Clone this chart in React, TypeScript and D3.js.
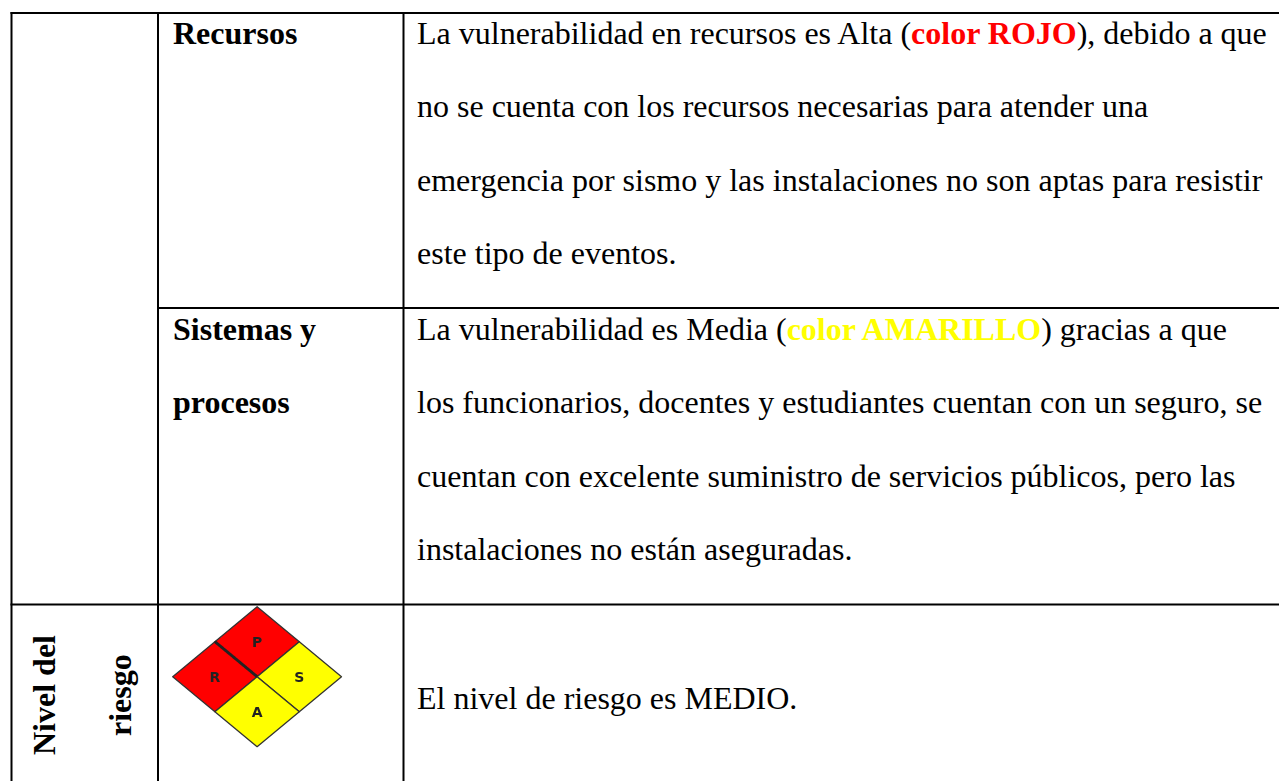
import React from "react";
import * as d3 from "d3";

type Run = { t: string; c?: "red" | "yellow" };

const recursosLines: Run[][] = [
  [
    { t: "La vulnerabilidad en recursos es Alta (" },
    { t: "color ROJO", c: "red" },
    { t: "), debido a que" },
  ],
  [{ t: "no se cuenta con los recursos necesarias para atender una" }],
  [{ t: "emergencia por sismo y las instalaciones no son aptas para resistir" }],
  [{ t: "este tipo de eventos." }],
];

const sistemasLines: Run[][] = [
  [
    { t: "La vulnerabilidad es Media (" },
    { t: "color AMARILLO", c: "yellow" },
    { t: ") gracias a que" },
  ],
  [{ t: "los funcionarios, docentes y estudiantes cuentan con un seguro, se" }],
  [{ t: "cuentan con excelente suministro de servicios públicos, pero las" }],
  [{ t: "instalaciones no están aseguradas." }],
];

const sistemasLabel = ["Sistemas y", "procesos"];
const riskText = "El nivel de riesgo es MEDIO.";

const diamondCells = [
  { label: "P", fill: "#ff0000", cx: 0, cy: -0.5 },
  { label: "R", fill: "#ff0000", cx: -0.5, cy: 0 },
  { label: "S", fill: "#ffff00", cx: 0.5, cy: 0 },
  { label: "A", fill: "#ffff00", cx: 0, cy: 0.5 },
];

const FONT = "'Liberation Serif', serif";
const SIZE = 32;
const LINE = 73.5;

const diaX = d3.scaleLinear().domain([-1, 1]).range([172.7, 341.5]);
const diaY = d3.scaleLinear().domain([-1, 1]).range([606.7, 746.7]);
const rhombus = d3
  .line<[number, number]>()
  .x((d) => diaX(d[0]))
  .y((d) => diaY(d[1]));

function Block({ lines, y0 }: { lines: Run[][]; y0: number }) {
  return (
    <>
      {lines.map((runs, i) => (
        <text key={i} x={417} y={y0 + i * LINE} fontFamily={FONT} fontSize={SIZE} fill="#000">
          {runs.map((r, j) => (
            <tspan key={j} fill={r.c === "red" ? "#ff0000" : r.c === "yellow" ? "#ffff00" : "#000"} fontWeight={r.c ? "bold" : "normal"}>
              {r.t}
            </tspan>
          ))}
        </text>
      ))}
    </>
  );
}

export default function App() {
  return (
    <svg width={1279} height={781} style={{ position: "absolute", left: 0, top: 0, background: "#fff" }}>
      <defs>
        <filter id="soft" x="-5%" y="-5%" width="110%" height="110%">
          <feGaussianBlur stdDeviation="0.7" />
        </filter>
      </defs>

      {/* table rules */}
      <g stroke="#000" strokeWidth={2}>
        <line x1={10.5} x2={1279} y1={13} y2={13} />
        <line x1={158} x2={1279} y1={308} y2={308} />
        <line x1={10.5} x2={1279} y1={604.5} y2={604.5} />
        <line x1={11.5} x2={11.5} y1={12} y2={781} />
        <line x1={158} x2={158} y1={12} y2={781} />
        <line x1={403.5} x2={403.5} y1={12} y2={781} />
      </g>

      <text x={173} y={43.5} fontFamily={FONT} fontSize={SIZE} fontWeight="bold">Recursos</text>
      {sistemasLabel.map((s, i) => (
        <text key={s} x={173} y={339.8 + i * LINE} fontFamily={FONT} fontSize={SIZE} fontWeight="bold">{s}</text>
      ))}

      <Block lines={recursosLines} y0={43.5} />
      <Block lines={sistemasLines} y0={339.8} />
      <text x={417} y={709} fontFamily={FONT} fontSize={SIZE}>{riskText}</text>

      <text transform="translate(55,755) rotate(-90)" fontFamily={FONT} fontSize={SIZE} fontWeight="bold">Nivel del</text>
      <text transform="translate(131,736) rotate(-90)" fontFamily={FONT} fontSize={SIZE} fontWeight="bold">riesgo</text>

      {/* risk diamond */}
      <g filter="url(#soft)">
        {diamondCells.map((c) => (
          <path
            key={c.label}
            d={rhombus([
              [c.cx, c.cy - 0.5],
              [c.cx + 0.5, c.cy],
              [c.cx, c.cy + 0.5],
              [c.cx - 0.5, c.cy],
            ]) + "Z"}
            fill={c.fill}
            stroke="#333"
            strokeWidth={1.3}
            strokeLinejoin="round"
          />
        ))}
        {/* the rule between the two red cells is heavier */}
        <path
          d={rhombus([
            [-0.5, -0.5],
            [0, 0],
          ]) ?? ""}
          stroke="#222"
          strokeWidth={2.8}
          fill="none"
        />
        {diamondCells.map((c) => (
          <text
            key={c.label}
            x={diaX(c.cx)}
            y={diaY(c.cy) + 5}
            textAnchor="middle"
            fontFamily="'DejaVu Sans', sans-serif"
            fontSize={14}
            fontWeight="bold"
            fill="#222"
          >
            {c.label}
          </text>
        ))}
      </g>
    </svg>
  );
}
